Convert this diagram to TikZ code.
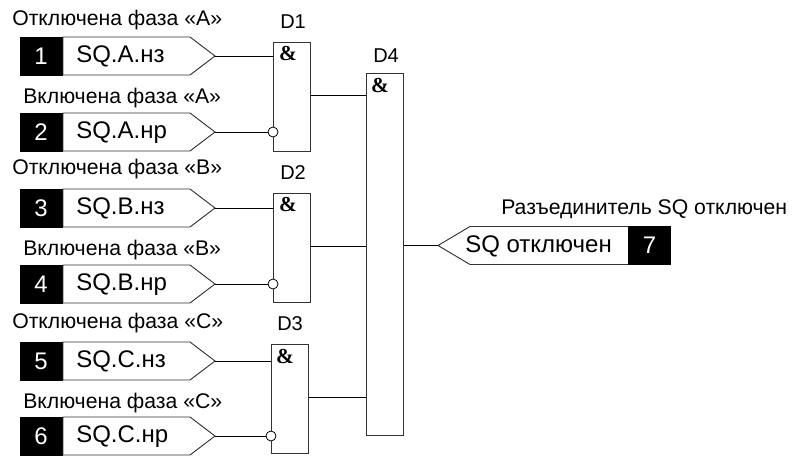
\documentclass[tikz,border=0pt]{standalone}
\usepackage{fontspec}
\setmainfont{Liberation Sans}
\newfontfamily\ampfont{Liberation Serif}
\tikzset{
  x=0.75pt,y=-0.75pt,
  wire/.style={draw=black,line width=0.6pt},
  blackbox/.style={fill=black,draw=black,line width=0.5pt,text=white,minimum width=31.5pt,minimum height=28.5pt,inner sep=0pt,font=\fontsize{18}{18}\selectfont},
  tagtext/.style={font=\fontsize{18}{18}\selectfont,inner sep=0pt,anchor=base west},
  captext/.style={font=\fontsize{15.9}{16}\selectfont,inner sep=0pt,anchor=base west},
  gatelabel/.style={font=\fontsize{15}{15}\selectfont,inner sep=0pt,anchor=base west},
  gate/.style={draw=black!80,line width=0.7pt,fill=white,inner sep=0pt},
  amp/.style={font=\ampfont\bfseries\fontsize{16}{16}\selectfont,inner sep=0pt},
  pent/.style={draw=black!80,line width=0.7pt,fill=white},
  bubble/.style={circle,draw=black,line width=0.6pt,fill=white,minimum size=7.5pt,inner sep=0pt}
}
\newcommand{\gatebox}[5]{% name x1 y1 x2 y2
  \node[gate,minimum width=#4*0.75pt-#2*0.75pt,minimum height=#5*0.75pt-#3*0.75pt,anchor=north west] (#1) at (#2,#3) {};
}
\newcommand{\inrow}[6]{% index ytop text captionx captionbaseline caption
  \pgfmathsetmacro{\ya}{#2}\pgfmathsetmacro{\yb}{#2+38}\pgfmathsetmacro{\ym}{#2+19}
  \node[blackbox] (b#1) at (41,\ym) {#1};
  \draw[pent] (63,\ya) -- (190,\ya) -- (215,\ym) coordinate (t#1) -- (190,\yb) -- (63,\yb) -- cycle;
  \node[tagtext] (l#1) at (76,\ym+6.5) {#3};
  \node[captext] (c#1) at (#4,#5) {#6};
}
\begin{document}
\begin{tikzpicture}
\useasboundingbox (0,0) rectangle (796,457);
\inrow{1}{37}{SQ.A.нз}{12}{25}{Отключена фаза «А»}
\inrow{2}{113}{SQ.A.нр}{23}{103}{Включена фаза «А»}
\inrow{3}{189}{SQ.B.нз}{12}{174}{Отключена фаза «В»}
\inrow{4}{265}{SQ.B.нр}{23}{255}{Включена фаза «В»}
\inrow{5}{342}{SQ.C.нз}{12}{328}{Отключена фаза «С»}
\inrow{6}{417}{SQ.C.нр}{23}{408}{Включена фаза «С»}
% gates
\gatebox{g1}{273}{41.5}{310}{151}
\gatebox{g2}{273}{193}{310}{302}
\gatebox{g3}{271}{344}{308}{453}
\gatebox{g4}{366}{73}{403}{435}
\node[amp] (a1) at (288,54) {\&};
\node[amp] (a2) at (288,205) {\&};
\node[amp] (a3) at (285,357) {\&};
\node[amp] (a4) at (380,86) {\&};
\node[gatelabel] (d1) at (280,28.5) {D1};
\node[gatelabel] (d2) at (280,179) {D2};
\node[gatelabel] (d3) at (277,330.5) {D3};
\node[gatelabel] (d4) at (373,62) {D4};
% wires
\coordinate (i1) at (g1.west |- t1);
\coordinate (i3) at (g2.west |- t3);
\coordinate (i5) at (g3.west |- t5);
\draw[wire] (t1) -- (i1);
\draw[wire] (t3) -- (i3);
\draw[wire] (t5) -- (i5);
\node[bubble] (n2) at (g1.west |- t2) {};
\node[bubble] (n4) at (g2.west |- t4) {};
\node[bubble] (n6) at (g3.west |- t6) {};
\draw[wire] (t2) -- (n2);
\draw[wire] (t4) -- (n4);
\draw[wire] (t6) -- (n6);
\coordinate (o1) at ([yshift=1.2pt]g1.east);
\coordinate (o2) at ([yshift=1pt]g2.east);
\coordinate (o3) at ([yshift=1pt]g3.east);
\draw[wire] (o1) -- (o1 -| g4.west);
\draw[wire] (o2) -- (o2 -| g4.west);
\draw[wire] (o3) -- (o3 -| g4.west);
% output
\draw[pent] (438,245.5) coordinate (t7) -- (470,226.5) -- (629,226.5) -- (629,264.5) -- (470,264.5) -- cycle;
\node[blackbox] (b7) at (649.5,245.5) {7};
\node[tagtext] (l7) at (465,252) {SQ отключен};
\node[captext] (c7) at (501,214) {Разъединитель SQ отключен};
\draw[wire] (g4.east |- t7) -- (t7);
\end{tikzpicture}
\end{document}
